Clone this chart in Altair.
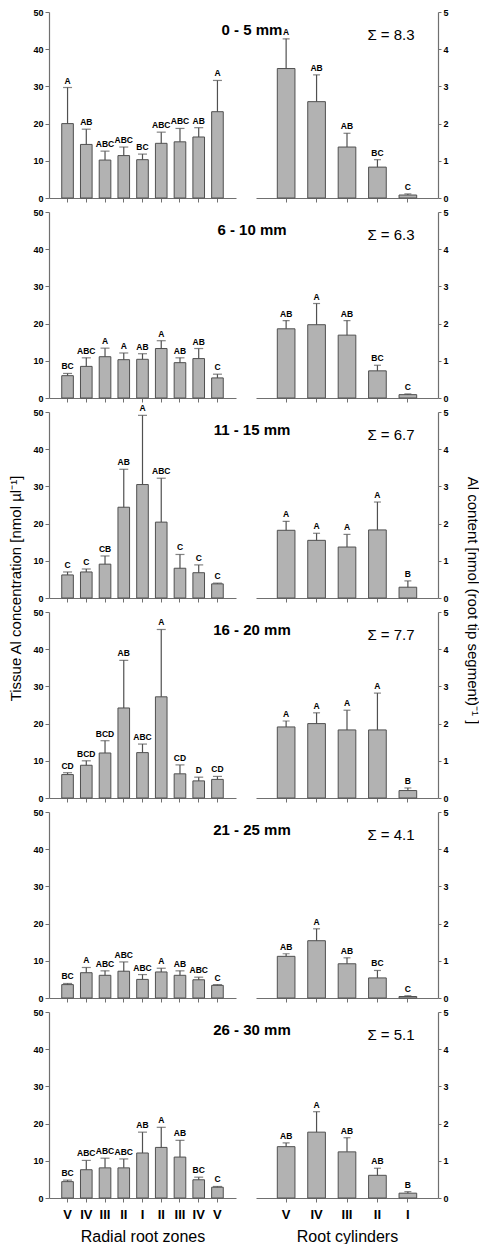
import altair as alt
import pandas as pd

zones = ["V", "IV", "III", "II", "I", "II", "III", "IV", "V"]
cylinders = ["V", "IV", "III", "II", "I"]
segments = ["0 - 5 mm", "6 - 10 mm", "11 - 15 mm", "16 - 20 mm", "21 - 25 mm", "26 - 30 mm"]
sums = ["8.3", "6.3", "6.7", "7.7", "4.1", "5.1"]

# Tissue Al concentration (radial root zones), mean and SE
conc_mean = [
    [20.0, 14.4, 10.2, 11.4, 10.3, 14.7, 15.1, 16.4, 23.2],
    [6.0, 8.5, 11.1, 10.3, 10.4, 13.3, 9.5, 10.6, 5.4],
    [6.2, 7.0, 9.1, 24.4, 30.5, 20.4, 8.0, 6.8, 3.8],
    [6.3, 8.8, 12.1, 24.2, 12.2, 27.2, 6.5, 4.6, 5.0],
    [3.6, 6.8, 6.1, 7.2, 5.0, 7.0, 6.1, 4.9, 3.4],
    [4.4, 7.6, 8.1, 8.1, 12.1, 13.6, 11.0, 4.9, 2.9],
]
conc_se = [
    [9.7, 4.1, 2.4, 2.3, 1.5, 3.0, 3.6, 2.5, 8.4],
    [0.6, 2.3, 2.3, 1.8, 1.5, 2.1, 1.3, 2.7, 1.0],
    [0.8, 0.8, 2.2, 10.2, 18.6, 11.8, 3.7, 2.1, 0.2],
    [0.5, 1.2, 3.3, 12.8, 2.3, 18.1, 2.4, 1.0, 0.8],
    [0.3, 1.4, 1.2, 2.5, 1.3, 1.0, 1.2, 0.7, 0.2],
    [0.4, 2.5, 2.6, 2.4, 5.6, 5.4, 4.5, 0.7, 0.2],
]
conc_letters = [
    ["A", "AB", "ABC", "ABC", "BC", "ABC", "ABC", "AB", "A"],
    ["BC", "ABC", "A", "A", "AB", "A", "AB", "AB", "C"],
    ["C", "C", "CB", "AB", "A", "ABC", "C", "C", "C"],
    ["CD", "BCD", "BCD", "AB", "ABC", "A", "CD", "D", "CD"],
    ["BC", "A", "ABC", "ABC", "ABC", "A", "AB", "ABC", "C"],
    ["BC", "ABC", "ABC", "ABC", "AB", "A", "AB", "BC", "C"],
]

# Al content (root cylinders), mean and SE
cont_mean = [
    [3.48, 2.59, 1.37, 0.83, 0.08],
    [1.86, 1.97, 1.69, 0.73, 0.09],
    [1.82, 1.55, 1.37, 1.83, 0.29],
    [1.91, 2.00, 1.83, 1.83, 0.20],
    [1.12, 1.54, 0.92, 0.54, 0.04],
    [1.38, 1.77, 1.24, 0.61, 0.13],
]
cont_se = [
    [0.80, 0.72, 0.37, 0.20, 0.03],
    [0.22, 0.57, 0.39, 0.15, 0.02],
    [0.24, 0.19, 0.34, 0.75, 0.17],
    [0.16, 0.29, 0.53, 0.99, 0.07],
    [0.07, 0.32, 0.16, 0.20, 0.02],
    [0.10, 0.55, 0.38, 0.19, 0.04],
]
cont_letters = [
    ["A", "AB", "AB", "BC", "C"],
    ["AB", "A", "AB", "BC", "C"],
    ["A", "A", "A", "A", "B"],
    ["A", "A", "A", "A", "B"],
    ["AB", "A", "AB", "BC", "C"],
    ["AB", "A", "AB", "AB", "B"],
]

left_title = "Tissue Al concentration [nmol µl⁻¹]"
right_title = "Al content [nmol (root tip segment)⁻¹ ]"

FONT = "Liberation Sans"
BAR = "#b2b2b2"
EDGE = "#505050"
AXIS = "#707070"
N = len(segments)


def label_expr(labels):
    return "[" + ",".join("'" + s + "'" for s in labels) + "][datum.value]"


def panel(i, means, ses, letters, labels, side):
    left = side == "left"
    df = pd.DataFrame({
        "pos": list(range(len(labels))),
        "mean": means[i],
        "se": ses[i],
        "letter": letters[i],
    })
    df["upper"] = df["mean"] + df["se"]
    bottom = i == N - 1

    xkw = dict(domainColor=AXIS, tickColor=AXIS, tickSize=4, labelAngle=0, grid=False,
               domainWidth=1.2, tickWidth=1)
    if bottom:
        xkw.update(labelExpr=label_expr(labels), labelFontSize=13, labelFontWeight="bold",
                   labelPadding=6, title="Radial root zones" if left else "Root cylinders",
                   titleFontSize=16, titleFontWeight="normal", titlePadding=7)
    else:
        xkw.update(labels=False, title=None)
    if left:
        xscale = alt.Scale(paddingInner=0.38, paddingOuter=0.68)
    else:
        xscale = alt.Scale(paddingInner=0.42, paddingOuter=0.70)
    X = alt.X("pos:O", scale=xscale, axis=alt.Axis(**xkw))

    ymax = 50 if left else 5
    ykw = dict(orient="left" if left else "right",
               values=list(range(0, 51, 10)) if left else list(range(0, 6)),
               tickSize=4 if left else 3, labelPadding=2, labelFontSize=9,
               labelFontWeight="bold", domainColor=AXIS, tickColor=AXIS,
               domainWidth=1.2, grid=False, labelOverlap=False, labelFlush=False)
    if i == 2:
        if left:
            ykw.update(title=left_title, titleFontSize=15, titleFontWeight="normal",
                       titleX=-26, titleY=176)
        else:
            ykw.update(title=right_title, titleFontSize=15, titleFontWeight="normal",
                       titleX=26, titleY=188)
    else:
        ykw.update(title=None)
    yaxis = alt.Axis(**ykw)
    yscale = alt.Scale(domain=[0, ymax], nice=False, zero=True)

    base = alt.Chart(df)
    bars = base.mark_bar(fill=BAR, stroke=EDGE, strokeWidth=1).encode(
        x=X, y=alt.Y("mean:Q", scale=yscale, axis=yaxis))
    err = base.mark_rule(color=EDGE, strokeWidth=1.2).encode(
        x=X, y=alt.Y("mean:Q", scale=yscale, axis=yaxis), y2="upper:Q")
    cap = base.mark_tick(color=EDGE, thickness=1.2, size=9 if left else 7,
                         orient="horizontal").encode(
        x=X, y=alt.Y("upper:Q", scale=yscale, axis=yaxis))
    txt = base.mark_text(font=FONT, fontSize=8.5, fontWeight="bold", baseline="bottom",
                         dy=-2, color="black").encode(
        x=X, y=alt.Y("upper:Q", scale=yscale, axis=yaxis), text="letter:N")
    layers = [bars, err, cap, txt]
    if left:
        ann = alt.Chart(pd.DataFrame({"t": [segments[i]]})).mark_text(
            font=FONT, fontSize=15, fontWeight="bold", align="center", color="black"
        ).encode(x=alt.value(203), y=alt.value(18), text="t:N")
    else:
        ann = alt.Chart(pd.DataFrame({"t": ["Σ = " + sums[i]]})).mark_text(
            font=FONT, fontSize=15, align="center", color="black"
        ).encode(x=alt.value(135), y=alt.value(23), text="t:N")
    layers.append(ann)
    return alt.layer(*layers).properties(width=187 if left else 182, height=186)


cells = []
for i in range(N):
    cells.append(panel(i, conc_mean, conc_se, conc_letters, zones, "left"))
    cells.append(panel(i, cont_mean, cont_se, cont_letters, cylinders, "right"))

chart = alt.concat(*cells, columns=2, spacing={"row": 14, "column": 20}, bounds="flush").properties(
    padding={"left": 0, "top": 0, "right": 0, "bottom": 0}
).configure(
    font=FONT,
    view=alt.ViewConfig(stroke=None, strokeWidth=0),
    axis=alt.AxisConfig(labelFont=FONT, titleFont=FONT, labelColor="black", titleColor="black"),
)

chart.save("out.html", embed_options={"renderer": "svg", "actions": False})
